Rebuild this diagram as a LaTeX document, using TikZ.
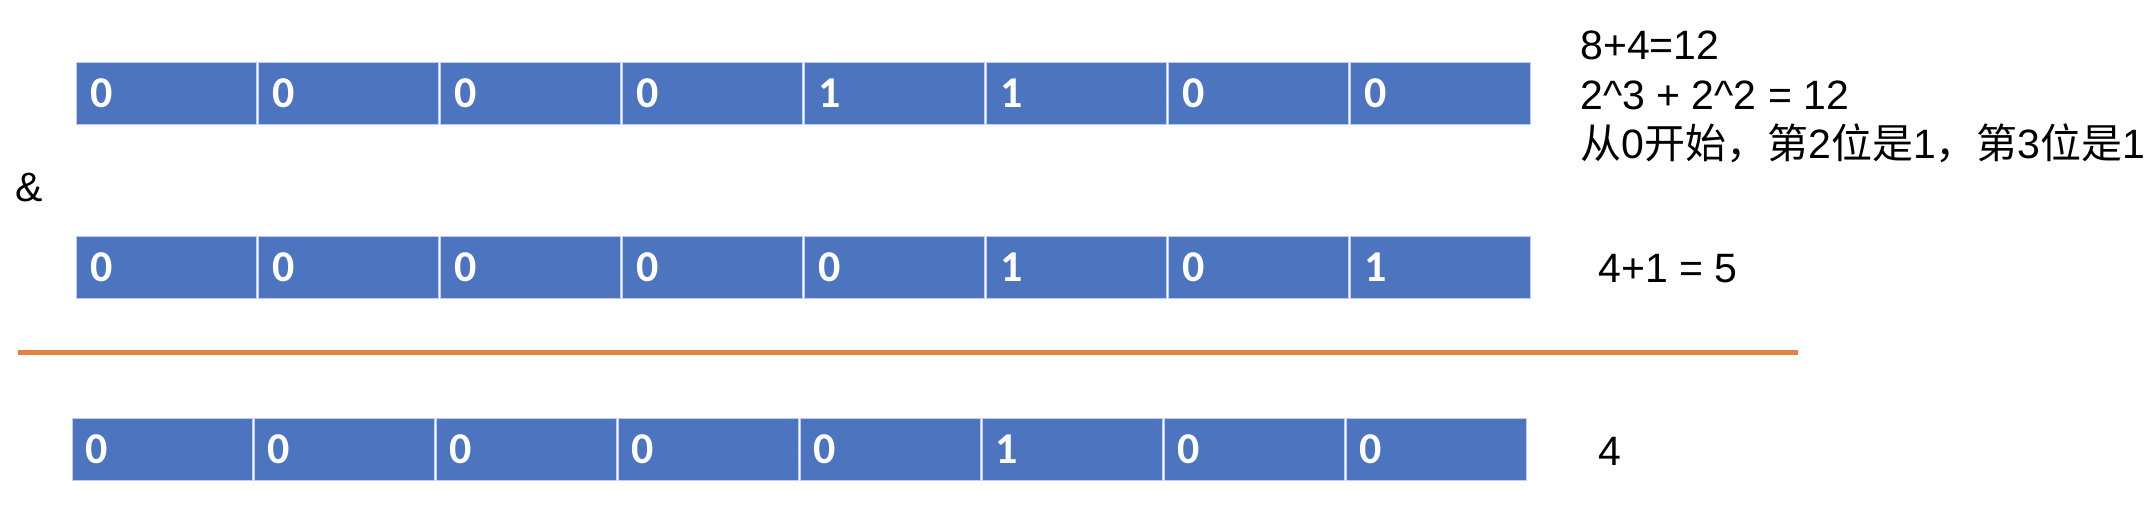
\documentclass[tikz,border=0pt]{standalone}
\usepackage{fontspec}
\setmainfont{Liberation Sans}
\newfontfamily\digitfont{Carlito}
\newfontfamily\cjk{Noto Sans CJK SC}
\definecolor{cellblue}{RGB}{76,116,191}
\definecolor{cellline}{RGB}{190,205,235}
\definecolor{sumorange}{RGB}{228,128,64}
\begin{document}
\begin{tikzpicture}[x=0.5pt,y=-0.5pt,
  cell/.style={rectangle, fill=cellblue, draw=cellline, line width=0.6pt,
    minimum width=90pt, minimum height=31pt, inner sep=0pt, anchor=north west},
  digit/.style={inner sep=0pt, anchor=west, text=white,
    font=\digitfont\bfseries\fontsize{22pt}{22pt}\selectfont},
  note/.style={inner sep=0pt, anchor=base west, text=black,
    font=\fontsize{20.5pt}{25pt}\selectfont},
  sumline/.style={draw=sumorange, line width=2.5pt}]
\useasboundingbox (0,0) rectangle (2146,516);
\foreach \r/\yy/\xs/\bits in {1/62/76/{0,0,0,0,1,1,0,0},
                             2/236/76/{0,0,0,0,0,1,0,1},
                             3/418/71.5/{0,0,0,0,0,1,0,0}}{
  \foreach \b [count=\i from 0] in \bits {
    \node[cell] (c\r-\i) at ({\xs+\i*182},\yy) {};
    \node[digit] (d\r-\i) at ([xshift=7pt]c\r-\i.west) {\b};
  }
}
\node[note] (amp) at (15,201) {\&};
\node[note] (t1) at (1580,59) {8+4=12};
\node[note] (t2) at (1580,109) {2\^{}3 + 2\^{}2 = 12};
\node[note] (t3) at (1580,158) {{\cjk 从}0{\cjk 开始，第}2{\cjk 位是}1{\cjk ，第}3{\cjk 位是}1};
\node[note] (t4) at (1598,282) {4+1 = 5};
\node[note] (t5) at (1598,465) {4};
\coordinate (la) at (18,352);
\coordinate (lb) at (1798,352);
\draw[sumline] (la) -- (lb);
\end{tikzpicture}
\end{document}
